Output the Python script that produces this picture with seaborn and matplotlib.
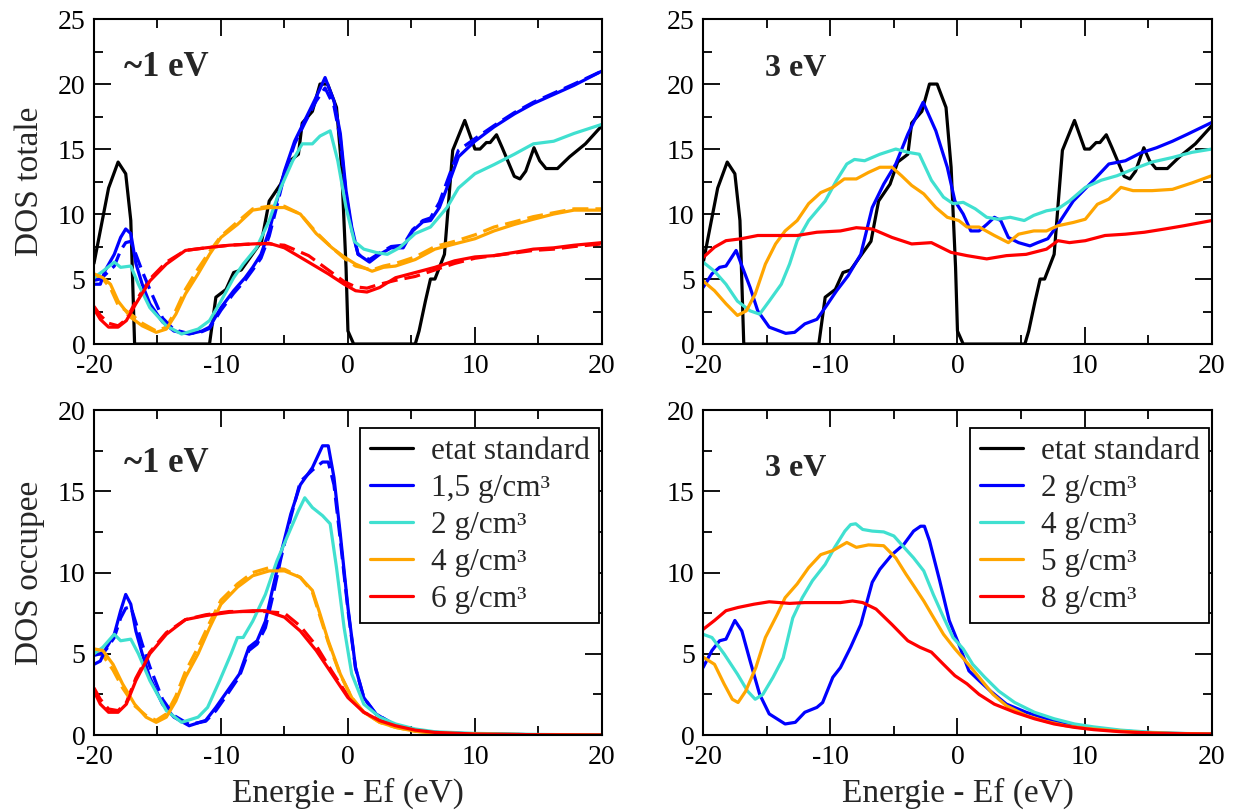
import matplotlib
matplotlib.use('Agg')
import matplotlib.pyplot as plt
from matplotlib.lines import Line2D
from matplotlib.ticker import MultipleLocator
import seaborn as sns

# ---- etat standard (black, same curve in both top panels) ----
std_x = [-20.0, -18.85, -18.1, -17.5, -17.1, -16.8, -10.9, -10.4, -9.6, -9.0, -8.4, -7.6, -6.8, -6.2, -5.3,
         -4.7, -3.9, -3.6, -2.8, -2.2, -1.6, -0.9, -0.5, -0.15, 0.0, 0.45, 5.3, 5.6, 6.1, 6.5, 6.85, 7.6,
         8.25, 9.2, 10.0, 10.4, 10.9, 11.2, 11.7, 12.15, 13.1, 13.55, 14.0, 14.65, 15.1, 15.6, 16.5, 17.45,
         18.7, 20.0]
std_y = [6.2, 12.0, 14.0, 13.1, 9.5, 0.0, 0.0, 3.6, 4.2, 5.5, 5.7, 6.8, 7.9, 11.0, 12.3, 14.0, 14.6, 17.0,
         17.9, 20.0, 20.0, 18.2, 13.6, 5.9, 1.0, 0.0, 0.0, 1.0, 3.3, 5.0, 5.0, 6.9, 14.9, 17.2, 15.0, 15.0,
         15.5, 15.5, 16.1, 15.1, 12.9, 12.7, 13.3, 15.1, 14.1, 13.5, 13.5, 14.4, 15.4, 16.8]

# ---- top-left : ~1 eV, DOS totale ----
tl_blue_x = [-20, -19.5, -19.15, -18.4, -17.9, -17.5, -17.1, -16.7, -16.2, -15.6, -14.6, -13.7, -12.5, -11.5,
             -10.9, -10.0, -9.0, -8.1, -7.5, -6.85, -6.2, -5.6, -5.0, -4.2, -3.4, -2.5, -1.8, -1.1, -0.6,
             -0.15, 0.3, 0.8, 1.7, 2.5, 3.4, 4.35, 5.1, 5.9, 6.5, 7.2, 8.1, 8.7, 10.0, 11.5, 13.1, 14.6,
             16.2, 17.8, 20]
tl_blue_y = [4.6, 4.6, 5.6, 6.9, 8.2, 8.85, 8.5, 6.2, 4.6, 3.1, 1.7, 1.0, 0.77, 1.0, 1.3, 2.8, 4.1, 5.1,
             5.9, 6.9, 8.7, 11.0, 13.3, 15.6, 17.2, 19.0, 20.5, 18.7, 16.2, 11.8, 9.0, 6.9, 6.3, 6.9, 7.4,
             7.4, 8.7, 9.4, 9.5, 10.5, 12.8, 14.4, 15.6, 16.7, 17.7, 18.5, 19.2, 19.9, 21.0]
tl_blue_dash_y = [4.9, 5.0, 5.3, 6.0, 7.2, 7.8, 7.9, 6.9, 5.6, 4.2, 2.0, 1.1, 0.8, 0.95, 1.2, 2.6, 3.9, 4.9,
                  5.7, 6.6, 8.3, 10.6, 13.0, 15.4, 17.0, 18.7, 19.7, 18.3, 15.8, 11.5, 8.8, 6.9, 6.5, 7.0,
                  7.5, 7.6, 8.8, 9.5, 9.7, 10.9, 13.3, 14.9, 15.8, 16.8, 17.8, 18.6, 19.3, 20.0, 21.0]
tl_cyan_x = [-20, -19.3, -18.4, -17.9, -17.1, -16.5, -15.6, -14.3, -13.1, -11.8, -10.9, -10.0, -9.0, -8.25,
             -7.2, -6.2, -5.3, -4.35, -3.6, -2.8, -2.2, -1.4, -0.8, -0.15, 0.5, 1.25, 2.2, 3.1, 4.05, 5.3,
             6.5, 7.8, 8.7, 10.0, 11.5, 13.1, 14.6, 16.2, 17.8, 20]
tl_cyan_y = [5.1, 5.6, 6.3, 5.9, 6.0, 4.6, 2.8, 1.4, 0.77, 1.15, 1.8, 3.3, 5.1, 6.15, 7.4, 9.5, 12.0, 14.1,
             15.4, 15.4, 16.0, 16.4, 14.1, 10.5, 7.9, 7.3, 7.05, 6.9, 7.4, 8.5, 9.0, 10.5, 12.0, 13.1, 13.8,
             14.6, 15.4, 15.6, 16.2, 16.9]
tl_orange_x = [-20, -19.3, -18.7, -18.1, -17.1, -16.2, -15.1, -14.3, -13.55, -12.8, -11.8, -10.9, -10.0, -8.7,
               -7.5, -6.2, -5.0, -3.75, -2.5, -1.25, -0.3, 0.6, 1.9, 2.8, 3.75, 5.3, 6.85, 8.4, 10.0, 11.5,
               13.1, 14.6, 16.2, 17.8, 20]
tl_orange_y = [5.4, 5.1, 4.6, 3.3, 2.05, 1.4, 0.9, 1.15, 2.3, 3.85, 5.4, 6.9, 8.2, 9.2, 10.3, 10.5, 10.5,
               10.0, 8.5, 7.4, 6.7, 6.15, 5.6, 5.9, 6.0, 6.5, 7.3, 7.7, 8.1, 8.7, 9.2, 9.6, 10.0, 10.3, 10.3]
tl_orange_dash_y = [5.2, 5.0, 4.3, 3.0, 2.3, 1.6, 1.0, 1.3, 2.6, 4.2, 5.8, 7.1, 8.3, 9.4, 10.4, 10.6, 10.6,
                    10.0, 8.6, 7.4, 6.6, 6.0, 5.7, 6.0, 6.2, 6.7, 7.5, 7.9, 8.4, 9.0, 9.4, 9.8, 10.1, 10.4,
                    10.4]
tl_red_x = [-20, -19.5, -18.85, -18.1, -17.45, -16.7, -15.6, -14.3, -12.8, -11.2, -9.35, -7.5, -6.2, -5.0,
            -3.1, -1.55, -0.3, 0.6, 1.5, 2.5, 3.75, 5.3, 6.85, 8.4, 10.0, 11.5, 13.1, 14.6, 16.2, 17.8, 20]
tl_red_y = [2.7, 1.9, 1.3, 1.3, 1.8, 3.1, 4.85, 6.15, 7.2, 7.4, 7.6, 7.7, 7.75, 7.4, 6.3, 5.4, 4.6, 4.1,
            4.0, 4.35, 5.1, 5.5, 5.9, 6.4, 6.7, 6.8, 7.05, 7.3, 7.4, 7.6, 7.8]
tl_red_dash_y = [2.9, 2.2, 1.6, 1.4, 1.9, 3.3, 5.0, 6.3, 7.2, 7.4, 7.6, 7.7, 7.7, 7.6, 6.8, 5.7, 4.8, 4.4,
                 4.3, 4.6, 4.9, 5.2, 5.7, 6.2, 6.6, 6.8, 7.0, 7.2, 7.3, 7.5, 7.7]

# ---- top-right : 3 eV, DOS totale ----
tr_blue_x = [-20, -19.3, -18.7, -18.2, -17.4, -17.0, -16.3, -15.7, -14.8, -13.5, -12.8, -12.0, -11.05, -10.4,
             -9.5, -8.6, -7.6, -6.7, -5.8, -4.85, -3.9, -2.7, -1.7, -0.8, -0.2, 0.45, 1.05, 1.7, 2.3, 2.9,
             3.4, 4.0, 4.8, 5.7, 6.3, 7.1, 7.9, 9.1, 10.7, 11.9, 13.2, 14.4, 15.65, 16.9, 18.1, 20]
tr_blue_y = [4.35, 5.4, 5.9, 6.0, 7.2, 6.15, 4.35, 2.55, 1.3, 0.82, 0.9, 1.55, 1.9, 2.8, 4.1, 5.25, 6.9,
             10.5, 12.3, 13.85, 16.15, 18.6, 16.4, 13.6, 11.0, 10.0, 8.7, 8.7, 9.2, 9.75, 9.5, 8.2, 7.8,
             7.55, 7.8, 8.1, 9.2, 11.0, 12.6, 13.85, 14.1, 14.7, 15.1, 15.6, 16.15, 17.05]
tr_cyan_x = [-20, -19.1, -18.2, -17.3, -16.3, -15.55, -14.8, -13.85, -13.2, -12.6, -11.7, -10.4, -9.5, -8.7,
             -8.1, -7.3, -6.1, -4.85, -3.9, -3.0, -2.05, -1.1, -0.35, 0.45, 1.4, 2.3, 3.2, 4.15, 5.25, 6.0,
             7.0, 7.9, 8.8, 10.05, 11.3, 12.55, 13.8, 15.3, 16.9, 18.45, 20]
tr_cyan_y = [6.3, 5.6, 4.6, 3.3, 2.55, 2.3, 3.3, 4.6, 6.15, 7.95, 9.5, 11.0, 12.6, 13.85, 14.2, 14.1, 14.6,
             15.0, 14.75, 14.6, 12.6, 11.3, 10.8, 10.9, 10.4, 9.75, 9.6, 9.75, 9.5, 9.9, 10.25, 10.4, 11.0,
             12.05, 12.6, 12.95, 13.45, 14.0, 14.35, 14.75, 15.0]
tr_orange_x = [-20, -19.1, -18.2, -17.3, -16.6, -15.9, -15.1, -14.3, -13.55, -12.6, -11.7, -10.75, -9.8,
               -8.9, -7.95, -7.0, -6.1, -5.15, -4.4, -3.6, -2.65, -1.7, -0.8, 0.1, 0.75, 1.7, 2.9, 4.0, 4.8,
               6.0, 7.0, 7.9, 9.1, 10.05, 11.0, 11.9, 12.85, 13.8, 15.3, 16.9, 18.45, 20]
tr_orange_y = [4.85, 4.1, 3.1, 2.2, 2.55, 3.85, 6.15, 7.7, 8.7, 9.5, 10.8, 11.65, 12.05, 12.7, 12.7, 13.2,
               13.6, 13.6, 12.95, 12.2, 11.55, 10.5, 9.75, 9.5, 9.0, 9.0, 8.35, 7.8, 8.45, 8.7, 8.7, 9.1,
               9.35, 9.6, 10.75, 11.15, 12.05, 11.8, 11.8, 11.9, 12.4, 12.95]
tr_red_x = [-20, -19.1, -18.2, -17.0, -15.7, -14.2, -12.6, -11.05, -9.2, -7.95, -6.7, -5.15, -3.6, -2.05,
            -0.5, 0.75, 2.3, 3.85, 5.4, 7.0, 7.9, 8.8, 10.05, 11.6, 13.2, 14.7, 16.3, 17.8, 20]
tr_red_y = [6.65, 7.45, 7.95, 8.1, 8.35, 8.35, 8.35, 8.6, 8.7, 8.95, 8.85, 8.2, 7.7, 7.8, 7.05, 6.8, 6.55,
            6.8, 6.9, 7.3, 7.95, 7.8, 7.95, 8.35, 8.45, 8.6, 8.85, 9.1, 9.5]

# ---- bottom-left : ~1 eV, DOS occupee ----
bl_blue_x = [-20, -19.5, -19.0, -18.4, -17.9, -17.5, -17.1, -16.7, -16.2, -15.6, -14.6, -13.7, -12.5, -11.2,
             -10.4, -9.5, -8.55, -7.8, -7.15, -6.5, -5.9, -5.3, -4.5, -3.75, -2.8, -2.0, -1.55, -1.1, -0.6,
             0.0, 0.6, 1.25, 2.2, 3.75, 5.3, 6.85, 10.0, 14.6, 20]
bl_blue_y = [4.35, 4.55, 5.4, 6.2, 7.65, 8.65, 8.05, 6.4, 5.0, 3.55, 1.9, 1.1, 0.57, 0.9, 1.7, 2.7, 3.75,
             5.4, 5.8, 7.0, 9.1, 11.1, 13.6, 15.4, 16.45, 17.8, 17.8, 15.85, 12.35, 7.85, 4.15, 2.3, 1.3,
             0.57, 0.27, 0.16, 0.06, 0.02, 0.0]
bl_blue_dash_y = [4.9, 5.0, 5.3, 6.0, 7.2, 7.8, 7.9, 6.9, 5.6, 4.2, 2.2, 1.2, 0.65, 0.85, 1.5, 2.5, 3.6, 5.2,
                  5.6, 6.6, 8.6, 10.8, 13.4, 15.6, 16.3, 16.8, 16.8, 15.4, 12.0, 7.7, 4.1, 2.3, 1.3, 0.6,
                  0.28, 0.16, 0.06, 0.02, 0.0]
bl_cyan_x = [-20, -19.3, -18.4, -17.9, -17.1, -16.5, -15.6, -14.3, -13.1, -11.8, -11.05, -10.1, -9.2, -8.7,
             -8.25, -7.5, -6.5, -5.6, -4.7, -3.9, -3.4, -2.8, -2.0, -1.4, -0.9, -0.3, 0.3, 1.25, 2.5, 3.75,
             5.3, 6.85, 10.0, 14.6, 20]
bl_cyan_y = [5.0, 5.4, 6.2, 5.8, 5.9, 5.0, 3.35, 1.5, 0.78, 1.1, 1.7, 3.35, 5.0, 6.0, 6.0, 7.0, 8.65, 10.7,
             12.35, 13.8, 14.6, 14.0, 13.5, 13.0, 10.3, 6.6, 3.75, 1.9, 1.1, 0.68, 0.37, 0.2, 0.1, 0.04, 0.0]
bl_orange_x = [-20, -19.3, -18.5, -17.75, -16.8, -15.9, -15.1, -14.3, -13.55, -12.8, -11.8, -10.9, -10.0,
               -8.7, -7.5, -6.2, -5.0, -3.75, -2.8, -2.2, -1.55, -0.6, 0.3, 1.25, 2.5, 3.75, 5.3, 6.85, 10.0,
               14.6, 20]
bl_orange_y = [5.3, 5.2, 4.35, 3.15, 1.9, 1.1, 0.78, 1.1, 2.1, 3.55, 5.0, 6.6, 8.05, 9.1, 9.8, 10.1, 10.1,
               9.7, 8.9, 7.45, 5.8, 3.75, 2.3, 1.4, 0.78, 0.47, 0.23, 0.12, 0.06, 0.02, 0.0]
bl_orange_dash_y = [5.1, 4.9, 4.0, 2.9, 1.8, 1.2, 0.9, 1.3, 2.4, 3.9, 5.4, 6.9, 8.3, 9.3, 10.0, 10.3, 10.2,
                    9.7, 8.8, 7.3, 5.7, 3.7, 2.3, 1.4, 0.78, 0.47, 0.23, 0.12, 0.06, 0.02, 0.0]
bl_red_x = [-20, -19.5, -18.85, -18.1, -17.45, -16.7, -15.6, -14.3, -12.8, -11.2, -9.35, -7.5, -6.5, -5.0,
            -3.75, -2.5, -1.25, 0.0, 1.25, 2.5, 3.75, 5.3, 6.85, 10.0, 14.6, 20]
bl_red_y = [2.7, 1.9, 1.4, 1.4, 1.9, 3.35, 5.0, 6.2, 7.1, 7.35, 7.55, 7.65, 7.65, 7.25, 6.4, 5.2, 3.75, 2.3,
            1.4, 0.88, 0.57, 0.3, 0.16, 0.06, 0.02, 0.0]
bl_red_dash_y = [2.9, 2.2, 1.6, 1.5, 2.0, 3.5, 5.1, 6.3, 7.1, 7.4, 7.6, 7.6, 7.6, 7.5, 6.7, 5.5, 3.9, 2.4,
                 1.4, 0.9, 0.57, 0.3, 0.16, 0.06, 0.02, 0.0]

# ---- bottom-right : 3 eV, DOS occupee ----
br_blue_x = [-20, -19.3, -18.7, -18.2, -17.5, -16.95, -16.3, -15.55, -14.8, -13.55, -12.75, -12.0, -11.05,
             -10.6, -9.8, -9.2, -8.4, -7.6, -6.7, -6.1, -5.15, -4.2, -3.45, -2.9, -2.6, -2.2, -1.4, -0.65,
             0.1, 0.9, 1.7, 2.6, 3.85, 5.4, 6.95, 8.5, 10.05, 12.2, 14.7, 16.9, 20]
br_blue_y = [4.15, 5.2, 5.8, 5.9, 7.05, 6.4, 4.55, 2.5, 1.3, 0.68, 0.78, 1.4, 1.7, 2.0, 3.55, 4.15, 5.4, 6.8,
             9.4, 10.2, 11.1, 11.75, 12.55, 12.85, 12.85, 11.95, 9.5, 7.05, 5.6, 3.95, 3.35, 2.7, 1.9, 1.4,
             1.0, 0.68, 0.5, 0.3, 0.16, 0.1, 0.06]
br_cyan_x = [-20, -19.3, -18.35, -17.3, -16.5, -15.9, -15.3, -14.5, -13.7, -12.95, -12.2, -11.4, -10.4, -9.65,
             -8.85, -8.4, -8.0, -7.45, -6.7, -5.8, -5.0, -4.2, -3.45, -2.65, -1.9, -1.1, -0.35, 0.45, 1.2,
             2.15, 3.25, 4.5, 6.05, 7.6, 9.2, 10.7, 12.85, 15.35, 17.5, 20]
br_cyan_y = [6.2, 6.0, 5.0, 3.75, 2.7, 2.2, 2.5, 3.55, 4.75, 7.2, 8.45, 9.5, 10.5, 11.55, 12.55, 12.95, 13.0,
             12.65, 12.55, 12.5, 12.25, 11.55, 10.9, 10.1, 8.65, 7.25, 6.0, 5.3, 4.35, 3.55, 2.7, 2.0, 1.4,
             1.0, 0.68, 0.5, 0.3, 0.16, 0.1, 0.06]
br_orange_x = [-20, -19.1, -18.35, -17.7, -17.25, -16.65, -15.85, -15.1, -14.15, -13.55, -12.6, -11.7, -10.75,
               -9.8, -8.7, -7.95, -7.0, -5.8, -4.85, -4.05, -3.45, -2.65, -1.9, -1.1, -0.2, 0.75, 1.7, 2.8,
               3.85, 5.4, 6.95, 8.5, 10.05, 12.2, 14.7, 16.9, 20]
br_orange_y = [4.8, 4.35, 3.15, 2.2, 2.0, 2.7, 4.15, 6.0, 7.45, 8.45, 9.3, 10.3, 11.1, 11.35, 11.85, 11.55,
               11.7, 11.65, 10.9, 9.9, 9.2, 8.25, 7.25, 6.2, 5.3, 4.45, 3.55, 2.5, 1.8, 1.2, 0.84, 0.57,
               0.41, 0.27, 0.14, 0.1, 0.06]
br_red_x = [-20, -19.1, -18.2, -17.25, -16.0, -14.8, -13.2, -12.0, -10.4, -9.2, -8.25, -7.45, -6.4, -5.15,
            -3.9, -2.95, -2.05, -1.1, -0.2, 0.75, 1.7, 2.9, 4.5, 6.05, 7.6, 9.2, 10.7, 12.85, 15.35, 17.5, 20]
br_red_y = [6.5, 7.05, 7.65, 7.85, 8.05, 8.2, 8.1, 8.15, 8.15, 8.15, 8.25, 8.15, 7.75, 6.8, 5.8, 5.4, 5.1,
            4.35, 3.65, 3.15, 2.5, 1.9, 1.4, 1.0, 0.68, 0.47, 0.33, 0.2, 0.12, 0.08, 0.06]

left_labels = ['etat standard', '1,5 g/cm³', '2 g/cm³', '4 g/cm³', '6 g/cm³']
right_labels = ['etat standard', '2 g/cm³', '4 g/cm³', '5 g/cm³', '8 g/cm³']
colors = ['black', '#0000ff', '#40e0d0', '#ffa500', '#ff0000']

LW = 2.3
DASH = (0, (5, 2.2))

sns.set_style('ticks')
plt.rcParams['font.family'] = ['Liberation Serif', 'DejaVu Serif']
plt.rcParams['axes.unicode_minus'] = False

fig = plt.figure(figsize=(12.38, 8.11), dpi=100)
ax_tl = fig.add_axes([0.0759, 0.5758, 0.4103, 0.4007])
ax_tr = fig.add_axes([0.5679, 0.5758, 0.4110, 0.4007])
ax_bl = fig.add_axes([0.0759, 0.0937, 0.4103, 0.4007])
ax_br = fig.add_axes([0.5679, 0.0937, 0.4110, 0.4007])


def trace(ax, x, y, color, dashed=False):
    kw = dict(linestyle=DASH) if dashed else {}
    sns.lineplot(x=x, y=y, color=color, lw=LW, ax=ax, estimator=None, sort=False, **kw)


def frame(ax, ymax):
    ax.set_xlim(-20, 20)
    ax.set_ylim(0, ymax)
    ax.xaxis.set_major_locator(MultipleLocator(10))
    ax.xaxis.set_minor_locator(MultipleLocator(5))
    ax.yaxis.set_major_locator(MultipleLocator(5))
    ax.yaxis.set_minor_locator(MultipleLocator(2.5))
    ax.tick_params(which='both', direction='in', top=True, right=True, width=1.3,
                   labelsize=20, colors='black')
    ax.tick_params(axis='x', pad=7)
    ax.tick_params(axis='y', pad=6)
    ax.tick_params(which='major', length=12)
    ax.tick_params(which='minor', length=6.5)
    for s in ax.spines.values():
        s.set_linewidth(1.5)
        s.set_color('black')
    ax.set_xlabel('')
    ax.set_ylabel('')


# top-left
trace(ax_tl, std_x, std_y, colors[0])
trace(ax_tl, tl_red_x, tl_red_dash_y, colors[4], dashed=True)
trace(ax_tl, tl_orange_x, tl_orange_dash_y, colors[3], dashed=True)
trace(ax_tl, tl_blue_x, tl_blue_dash_y, colors[1], dashed=True)
trace(ax_tl, tl_blue_x, tl_blue_y, colors[1])
trace(ax_tl, tl_cyan_x, tl_cyan_y, colors[2])
trace(ax_tl, tl_orange_x, tl_orange_y, colors[3])
trace(ax_tl, tl_red_x, tl_red_y, colors[4])
frame(ax_tl, 25)

# top-right
trace(ax_tr, std_x, std_y, colors[0])
trace(ax_tr, tr_blue_x, tr_blue_y, colors[1])
trace(ax_tr, tr_cyan_x, tr_cyan_y, colors[2])
trace(ax_tr, tr_orange_x, tr_orange_y, colors[3])
trace(ax_tr, tr_red_x, tr_red_y, colors[4])
frame(ax_tr, 25)

# bottom-left
trace(ax_bl, bl_red_x, bl_red_dash_y, colors[4], dashed=True)
trace(ax_bl, bl_orange_x, bl_orange_dash_y, colors[3], dashed=True)
trace(ax_bl, bl_blue_x, bl_blue_dash_y, colors[1], dashed=True)
trace(ax_bl, bl_blue_x, bl_blue_y, colors[1])
trace(ax_bl, bl_cyan_x, bl_cyan_y, colors[2])
trace(ax_bl, bl_orange_x, bl_orange_y, colors[3])
trace(ax_bl, bl_red_x, bl_red_y, colors[4])
frame(ax_bl, 20)

# bottom-right
trace(ax_br, br_blue_x, br_blue_y, colors[1])
trace(ax_br, br_cyan_x, br_cyan_y, colors[2])
trace(ax_br, br_orange_x, br_orange_y, colors[3])
trace(ax_br, br_red_x, br_red_y, colors[4])
frame(ax_br, 20)

# labels
ax_tl.set_ylabel('DOS totale', fontsize=24, labelpad=9)
ax_bl.set_ylabel('DOS occupee', fontsize=24, labelpad=9)
ax_bl.set_xlabel('Energie - Ef (eV)', fontsize=24, labelpad=6)
ax_br.set_xlabel('Energie - Ef (eV)', fontsize=24, labelpad=6)

# panel tags
tag1 = dict(fontsize=25, fontweight='bold', va='center', ha='left')
tag3 = dict(fontsize=23, fontweight='bold', va='center', ha='left')
ax_tl.text(-17.6, 21.3, '~1 eV', **tag1)
ax_tr.text(-15.1, 21.2, '3 eV', **tag3)
ax_bl.text(-17.6, 16.7, '~1 eV', **tag1)
ax_br.text(-15.1, 16.4, '3 eV', **tag3)

# legends
for ax, labels in [(ax_bl, left_labels), (ax_br, right_labels)]:
    handles = [Line2D([], [], color=c, lw=LW) for c in colors]
    leg = ax.legend(handles, labels, loc='upper right', bbox_to_anchor=(0.994, 0.945),
                    borderaxespad=0, fontsize=22.5, frameon=True, fancybox=False,
                    edgecolor='black', framealpha=1, handlelength=1.4, handletextpad=0.55,
                    labelspacing=0.25, borderpad=0.3)
    leg.get_frame().set_linewidth(1.3)

fig.savefig('out.png', dpi=100)
